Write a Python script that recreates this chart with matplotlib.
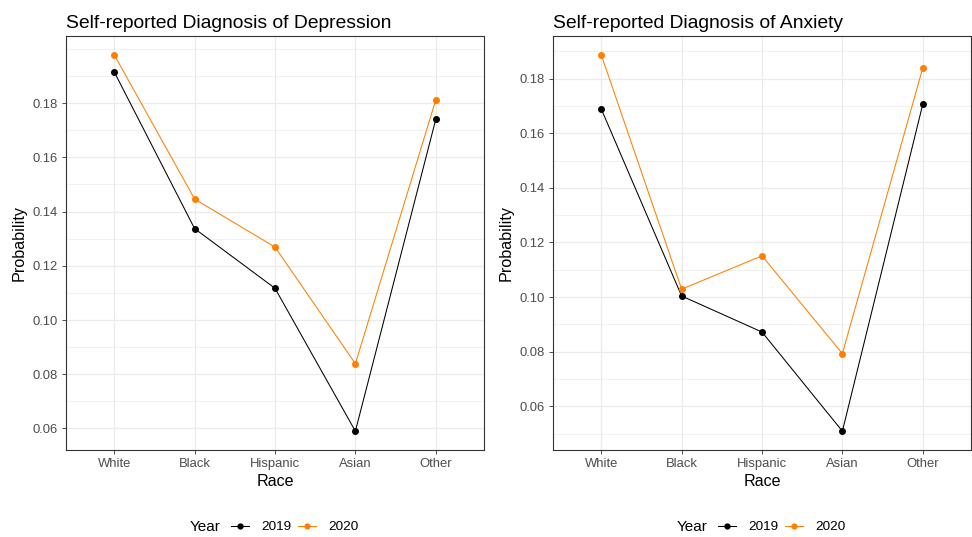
import numpy as np
import matplotlib.pyplot as plt
from matplotlib.lines import Line2D
from matplotlib.ticker import FixedLocator

plt.rcParams['font.family'] = ['Liberation Sans', 'DejaVu Sans']

races = ['White', 'Black', 'Hispanic', 'Asian', 'Other']
years = ['2019', '2020']
colors = ['#000000', '#FF7F00']

# Depression
dep_2019 = [0.1915, 0.1337, 0.1117, 0.0590, 0.1740]
dep_2020 = [0.1978, 0.1446, 0.1269, 0.0839, 0.1812]

# Anxiety
anx_2019 = [0.1689, 0.1004, 0.0872, 0.0509, 0.1706]
anx_2020 = [0.1887, 0.1029, 0.1151, 0.0793, 0.1839]

panels = [
    ('Self-reported Diagnosis of Depression', [dep_2019, dep_2020]),
    ('Self-reported Diagnosis of Anxiety', [anx_2019, anx_2020]),
]

fig = plt.figure(figsize=(9.72, 5.37), dpi=100)
W, H = 972, 537
boxes = [(66, 484), (553, 971)]
top, bottom = 36, 450

for (title, series), (x0, x1) in zip(panels, boxes):
    ax = fig.add_axes([x0 / W, 1 - bottom / H, (x1 - x0) / W, (bottom - top) / H])
    xs = list(range(1, len(races) + 1))
    allv = series[0] + series[1]
    lo, hi = min(allv), max(allv)
    pad = (hi - lo) * 0.05
    ax.set_ylim(lo - pad, hi + pad)
    ax.set_xlim(0.4, 5.6)

    # ggplot-like breaks: majors inside data range, minors halfway
    steps = np.round(np.arange(0.0, 0.3, 0.01), 2)
    majors = [v for v in steps if lo <= v <= hi and round(v * 100) % 2 == 0]
    minors = [v for v in steps if v not in majors and lo - pad <= v <= hi + pad]
    ax.yaxis.set_major_locator(FixedLocator(majors))
    ax.yaxis.set_minor_locator(FixedLocator(minors))
    ax.yaxis.set_major_formatter(plt.FuncFormatter(lambda v, p: f'{v:.2f}'))
    ax.grid(which='major', color='#EBEBEB', lw=0.9)
    ax.grid(which='minor', axis='y', color='#EBEBEB', lw=0.5)
    ax.set_axisbelow(True)

    for vals, c in zip(series, colors):
        ax.plot(xs, vals, color=c, lw=0.75, marker='o', ms=4, zorder=3)

    ax.set_xticks(xs)
    ax.set_xticklabels(races)
    ax.tick_params(which='major', length=3, width=0.6, color='#333333',
                   labelsize=9.4, labelcolor='#4D4D4D', pad=3)
    ax.tick_params(which='minor', length=0)
    for s in ax.spines.values():
        s.set_color('#333333')
        s.set_linewidth(0.8)

    ax.set_xlabel('Race', fontsize=11.6, labelpad=3)
    ax.set_ylabel('Probability', fontsize=11.6, labelpad=4)
    ax.set_title(title, loc='left', fontsize=13.9, pad=6)

    # legend below the panel, title on the left
    cx = (x0 + x1) / 2
    handles = [Line2D([], [], color=c, lw=0.75, marker='o', ms=3.5) for c in colors]
    fig.text((cx - 85) / W, 1 - 527 / H, 'Year', fontsize=11, ha='left', va='center')
    fig.legend(handles, years, loc='center left', bbox_to_anchor=((cx - 44) / W, 1 - 527 / H),
               ncol=2, frameon=False, fontsize=9.7, handlelength=1.35, handletextpad=0.9,
               columnspacing=0.5, borderpad=0, borderaxespad=0)

fig.savefig('out.png', dpi=100)
